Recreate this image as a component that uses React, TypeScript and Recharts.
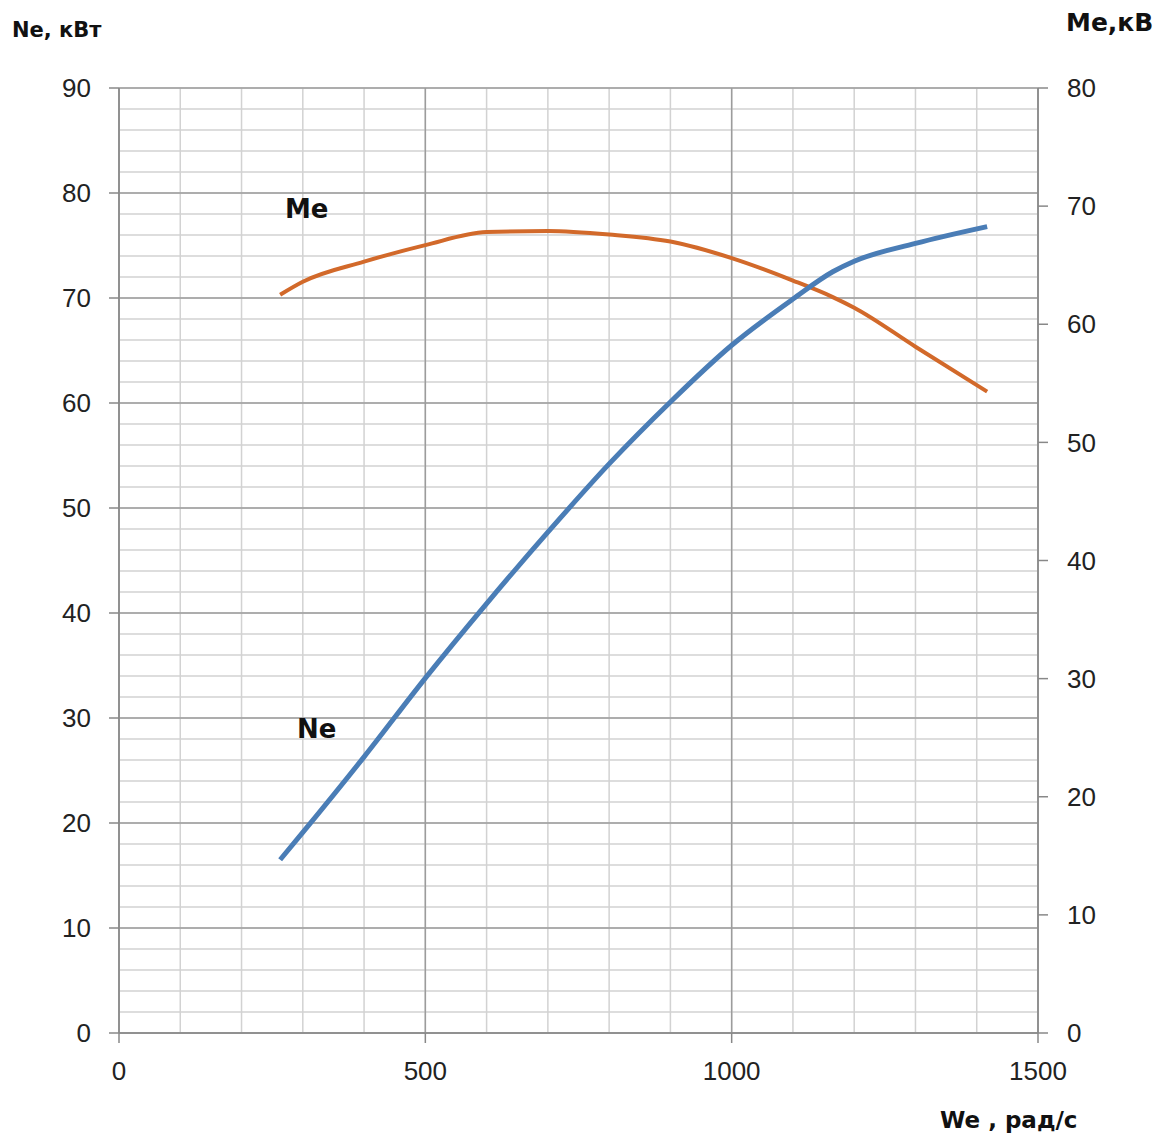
import { CartesianGrid, Line, LineChart, XAxis, YAxis } from "recharts";

// angular speed, rad/s
const we = [263, 300, 400, 500, 600, 700, 800, 900, 1000, 1100, 1165, 1200, 1300, 1417];
// effective power, kW
const ne = [16.5, 19.1, 26.3, 33.8, 40.9, 47.7, 54.2, 60.1, 65.5, 69.9, 72.5, 73.5, 75.2, 76.8];
// effective torque
const me = [62.5, 63.6, 65.3, 66.7, 67.8, 67.9, 67.6, 67.0, 65.6, 63.7, 62.3, 61.4, 58.1, 54.3];

const xTicks = [0, 500, 1000, 1500];
const xMinor = [0, 100, 200, 300, 400, 500, 600, 700, 800, 900, 1000, 1100, 1200, 1300, 1400, 1500];
const leftTicks = [0, 10, 20, 30, 40, 50, 60, 70, 80, 90];
const leftMinor = Array.from({ length: 46 }, (_, i) => i * 2);
const rightTicks = [0, 10, 20, 30, 40, 50, 60, 70, 80];
const leftMax = 90;

const data = we.map((w, i) => ({ we: w, ne: ne[i], me: me[i] }));

const tickStyle = { fontSize: 26, fill: "#222", fontFamily: "Liberation Sans, Arial, sans-serif" };
const labelStyle: React.CSSProperties = {
  position: "absolute",
  fontFamily: "DejaVu Sans, Verdana, sans-serif",
  fontWeight: 700,
  color: "#111",
  whiteSpace: "nowrap",
  lineHeight: 1,
};

// minor horizontal lines every 2 units; the grid's own value filter drops every other one
const minorRows = ({ yAxis, offset }: any) =>
  leftMinor.map((v) =>
    yAxis && typeof yAxis.scale === "function"
      ? yAxis.scale(v)
      : offset.top + offset.height * (1 - v / leftMax)
  );

export default function App() {
  return (
    <div style={{ position: "absolute", left: 0, top: 0, width: 1161, height: 1139, background: "#fff" }}>
      <LineChart width={1161} height={1139} data={data} margin={{ top: 88, right: 53, left: 59, bottom: 46 }}>
        <CartesianGrid
          stroke="#d2d2d2"
          strokeWidth={1.5}
          horizontalCoordinatesGenerator={minorRows}
          verticalValues={xMinor}
        />
        <CartesianGrid stroke="#9c9c9c" strokeWidth={1.5} horizontalValues={leftTicks} verticalValues={xTicks} />
        <XAxis
          dataKey="we"
          type="number"
          domain={[0, 1500]}
          ticks={xTicks}
          tick={tickStyle}
          tickSize={10}
          tickMargin={19}
          height={60}
          stroke="#888"
          strokeWidth={1.5}
        />
        <YAxis
          yAxisId={0}
          domain={[0, leftMax]}
          ticks={leftTicks}
          tick={tickStyle}
          tickSize={10}
          tickMargin={18}
          width={60}
          stroke="#888"
          strokeWidth={1.5}
        />
        <YAxis
          yAxisId="right"
          orientation="right"
          domain={[0, 80]}
          ticks={rightTicks}
          tick={tickStyle}
          tickSize={10}
          tickMargin={19}
          width={70}
          stroke="#888"
          strokeWidth={1.5}
        />
        <Line
          yAxisId="right"
          type="monotone"
          dataKey="me"
          stroke="#d2692a"
          strokeWidth={4}
          dot={false}
          isAnimationActive={false}
        />
        <Line
          yAxisId={0}
          type="monotone"
          dataKey="ne"
          stroke="#4a7db6"
          strokeWidth={5}
          dot={false}
          isAnimationActive={false}
        />
      </LineChart>
      <div style={{ ...labelStyle, fontSize: 21, left: 12, top: 20 }}>Ne, кВт</div>
      <div style={{ ...labelStyle, fontSize: 25, left: 1066, top: 10 }}>Me,кВ</div>
      <div style={{ ...labelStyle, fontSize: 23, left: 940, top: 1109 }}>We , рад/с</div>
      <div style={{ ...labelStyle, fontSize: 26, left: 285, top: 196 }}>Me</div>
      <div style={{ ...labelStyle, fontSize: 26, left: 297, top: 716 }}>Ne</div>
    </div>
  );
}
